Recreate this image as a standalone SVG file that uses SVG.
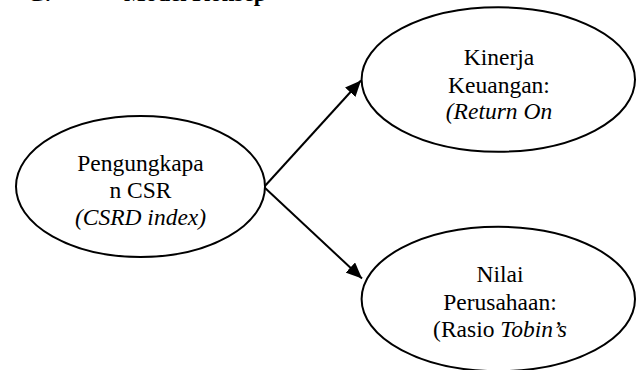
<svg xmlns="http://www.w3.org/2000/svg" width="638" height="370" viewBox="0 0 638 370">
<style>
.node{fill:#fff;stroke:#000;stroke-width:2}
.t{font-family:'Liberation Serif','DejaVu Serif',serif;font-size:23.5px;fill:#000;text-anchor:middle}
.i{font-style:italic}
.h{font-family:'Liberation Serif','DejaVu Serif',serif;font-size:23px;font-weight:bold;fill:#000}
.c{stroke:#000;stroke-width:2;fill:none}
</style>
<defs>
<marker id="ah" markerUnits="userSpaceOnUse" markerWidth="18" markerHeight="14" refX="16" refY="7" orient="auto">
<path d="M0,0 L16,7 L0,14 Z" fill="#000"/>
</marker>
</defs>
<rect width="638" height="370" fill="#fff"/>
<text class="h" x="27" y="1">G.</text>
<text class="h" x="124" y="1">Model Konsep</text>
<g id="connectors">
<line class="c" x1="264" y1="187" x2="361" y2="80.5" marker-end="url(#ah)"/>
<line class="c" x1="264" y1="187" x2="362" y2="278.5" marker-end="url(#ah)"/>
</g>
<g id="csr">
<ellipse class="node" cx="140.5" cy="186.5" rx="124.5" ry="70.5"/>
<text class="t" x="140.5" y="170.7">Pengungkapa</text>
<text class="t" x="140.5" y="198.3">n CSR</text>
<text class="t i" x="140.5" y="225">(CSRD index)</text>
</g>
<g id="kinerja">
<ellipse class="node" cx="498.3" cy="79.5" rx="136.7" ry="72.2"/>
<text class="t" x="499" y="65">Kinerja</text>
<text class="t" x="499" y="92.7">Keuangan:</text>
<text class="t i" x="499" y="119.3">(Return On</text>
</g>
<g id="nilai">
<ellipse class="node" cx="498.3" cy="299" rx="136.7" ry="72.2"/>
<text class="t" x="500" y="281.7">Nilai</text>
<text class="t" x="500" y="310">Perusahaan:</text>
<text class="t" x="500" y="336.7">(Rasio <tspan class="i">Tobin’s</tspan></text>
</g>
</svg>
